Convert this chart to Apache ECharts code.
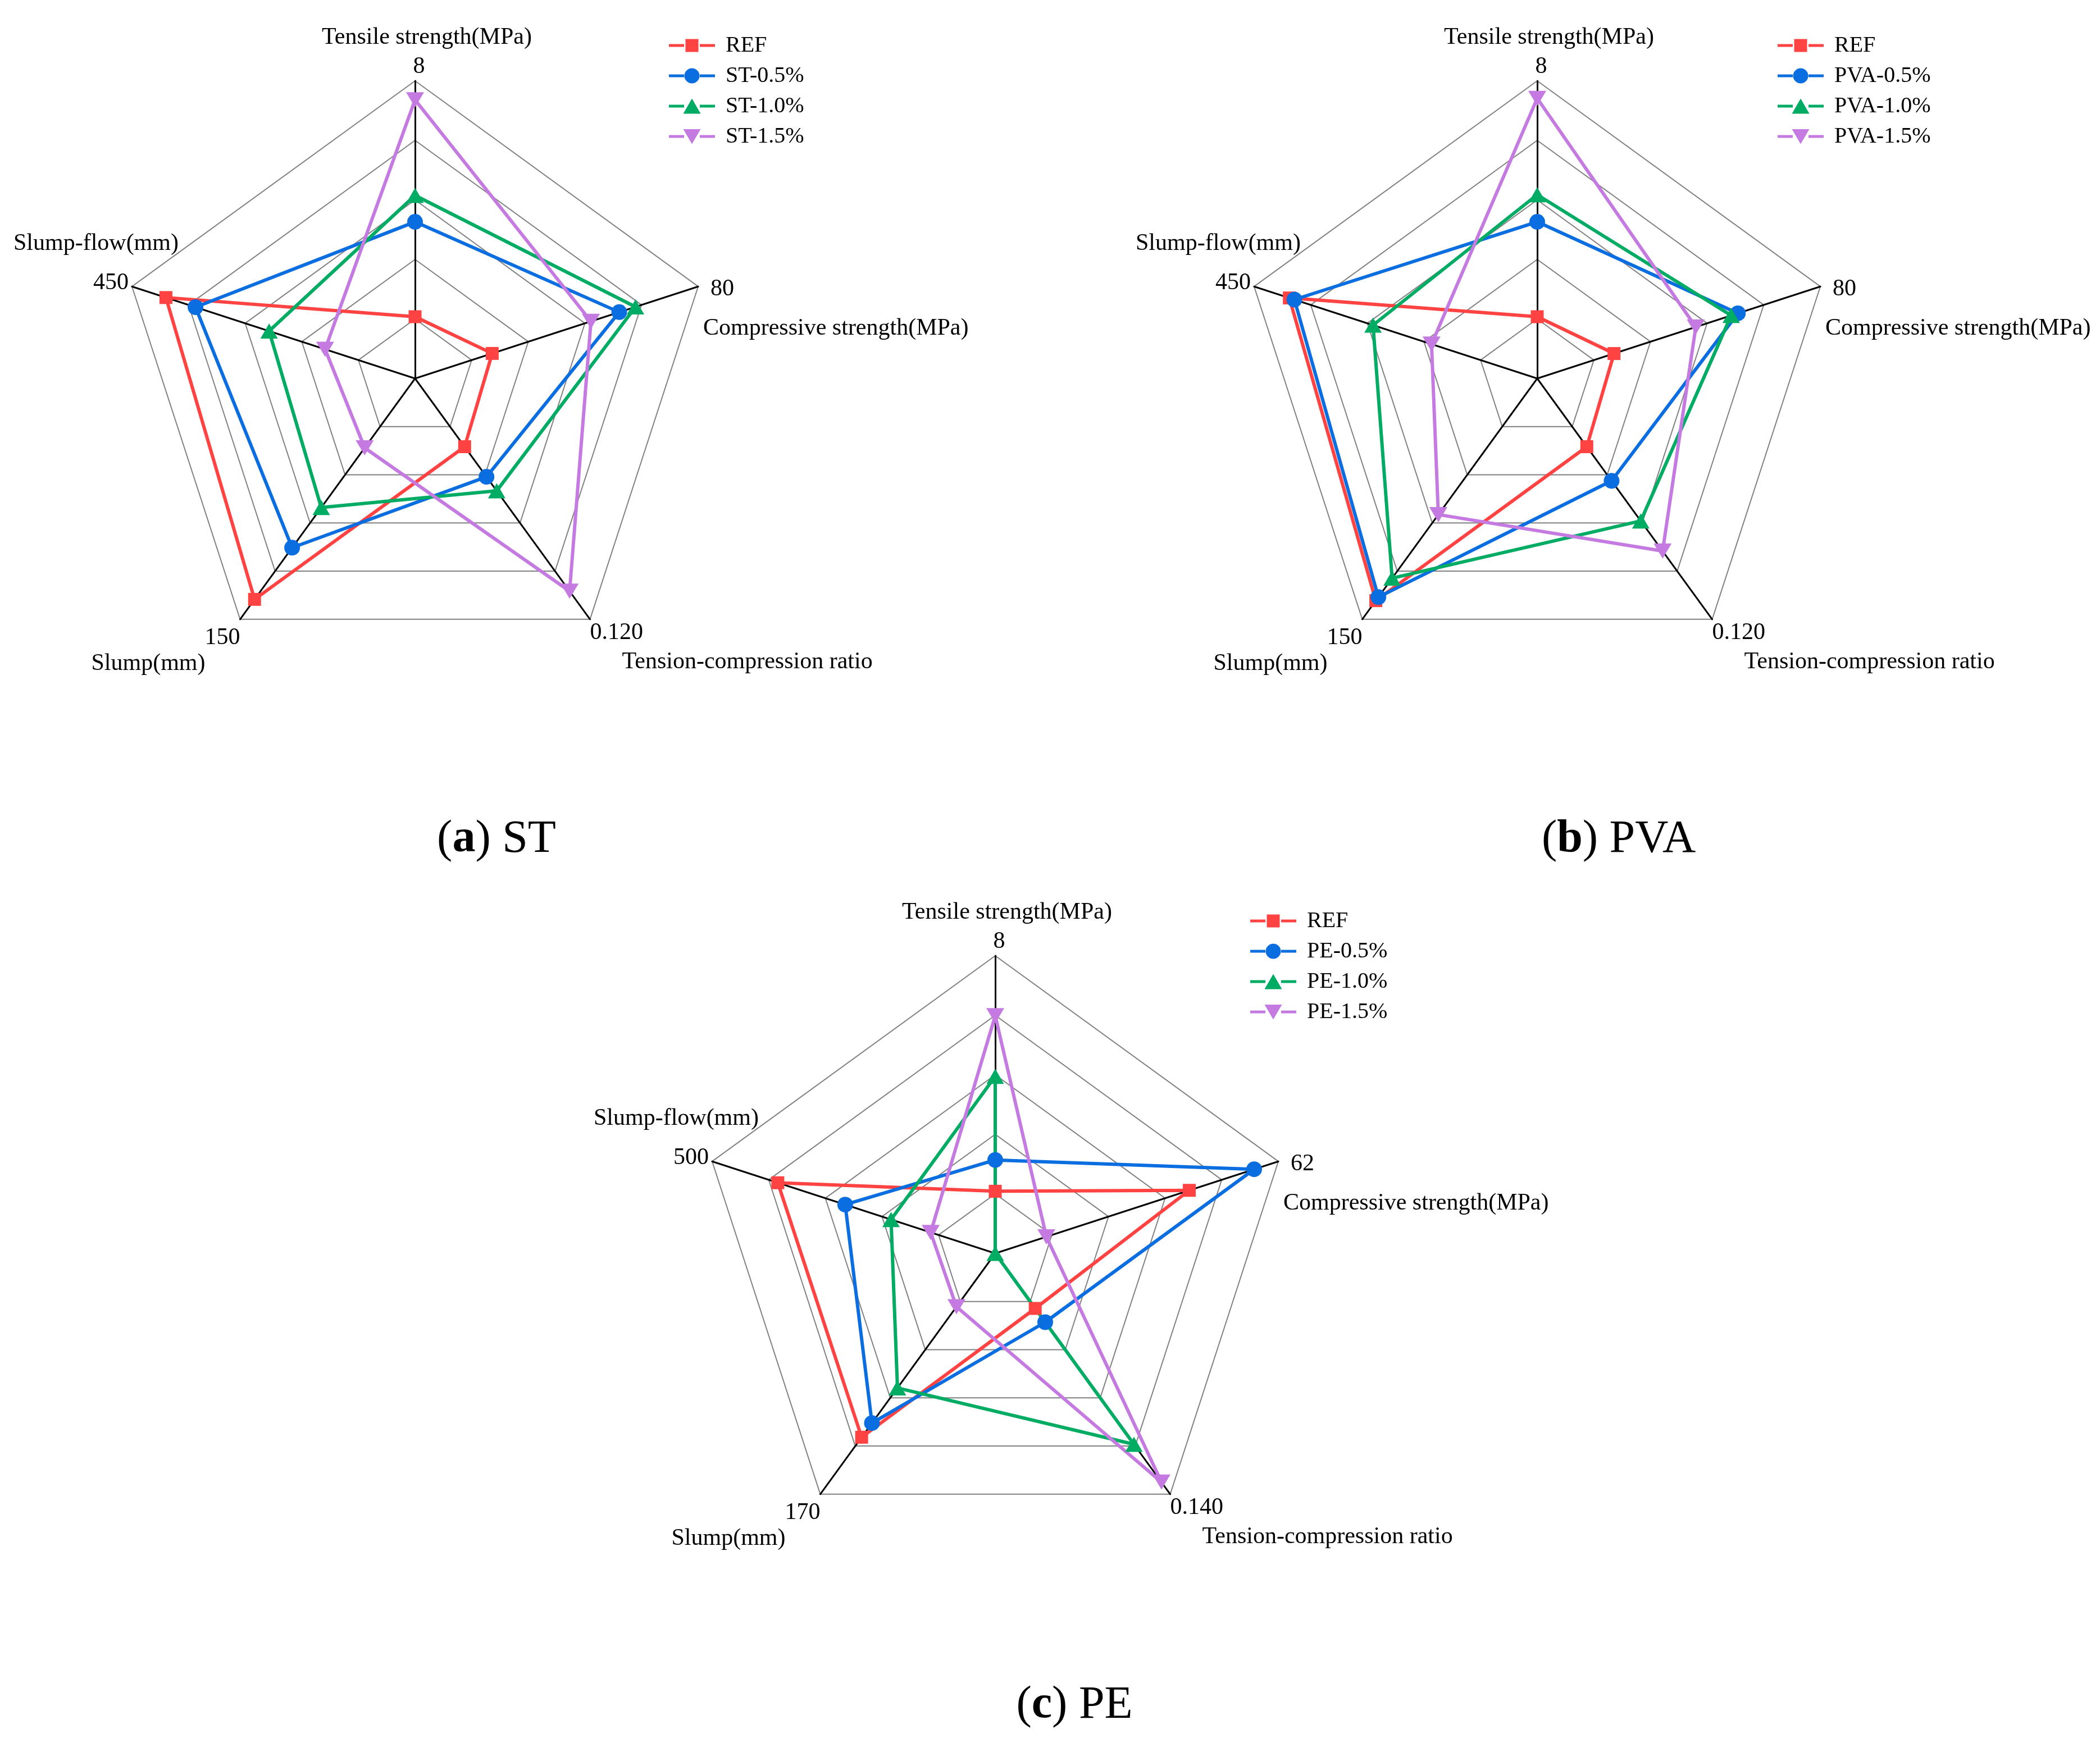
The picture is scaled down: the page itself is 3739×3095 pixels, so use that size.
<!DOCTYPE html>
<html>
<head>
<meta charset="utf-8">
<script src="https://cdn.jsdelivr.net/npm/echarts@6/dist/echarts.min.js"></script>
<style>
html, body { margin: 0; padding: 0; background: #ffffff; }
#chart { width: 3739px; height: 3095px; }
</style>
</head>
<body>
<div id="chart"></div>
<script>
// ---------------- data ----------------
// indicator order (counter-clockwise from top)
const indicatorNames = ['Tensile strength(MPa)', 'Slump-flow(mm)', 'Slump(mm)', 'Tension-compression ratio', 'Compressive strength(MPa)'];

const maxST  = [8, 450, 150, 0.12, 80];
const maxPVA = [8, 450, 150, 0.12, 80];
const maxPE  = [8, 500, 170, 0.14, 62];

const tickST  = ['8', '450', '150', '0.120', '80'];
const tickPVA = ['8', '450', '150', '0.120', '80'];
const tickPE  = ['8', '500', '170', '0.140', '62'];

const namesST  = ['REF', 'ST-0.5%', 'ST-1.0%', 'ST-1.5%'];
const namesPVA = ['REF', 'PVA-0.5%', 'PVA-1.0%', 'PVA-1.5%'];
const namesPE  = ['REF', 'PE-0.5%', 'PE-1.0%', 'PE-1.5%'];

// values: [tensile, slump-flow, slump, tension-compression ratio, compressive]
const refST = [1.66, 396, 137.6, 0.034, 21.8];
const st05  = [4.21, 349, 105.4, 0.049, 57.7];
const st10  = [4.92, 232, 80.4, 0.056, 62.3];
const st15  = [7.49, 143, 43.2, 0.106, 49.7];

const refPVA = [1.66, 394, 138.4, 0.034, 21.7];
const pva05  = [4.21, 386, 136.2, 0.051, 56.7];
const pva10  = [4.94, 261, 124.4, 0.071, 54.8];
const pva15  = [7.53, 168, 84.8, 0.086, 44.8];

const refPE = [1.67, 384, 129.8, 0.032, 42.5];
const pe05  = [2.51, 265, 119.8, 0.040, 56.7];
const pe10  = [4.76, 184, 95.0, 0.111, 0];
const pe15  = [6.39, 114, 37.7, 0.133, 11.2];

// ---------------- styles / layout ----------------
const FONT = 'Liberation Serif';
const COLORS = ['#ff4242', '#0a6de0', '#00ab64', '#c47ae0'];
const SYMBOLS = ['rect', 'circle', 'triangle', 'path://M0,0L2,0L1,1.7Z'];
const SYMBOL_SIZES = [23, 28, [31, 27], [32, 27]];
const RADIUS = 530;

const CORNERS = 'M0,0L0.01,0L0,0.01Z M86,28L85.99,28L86,27.99Z ';
const BARS = 'M2,11.5L29,11.5L29,16.5L2,16.5Z M57,11.5L84,11.5L84,16.5L57,16.5Z ';
const LEGEND_ICONS = [
  'path://' + CORNERS + BARS + 'M31.5,2.5L54.5,2.5L54.5,25.5L31.5,25.5Z',
  'path://' + CORNERS + BARS + 'M29.5,14A13.5,13.5 0 1,1 56.5,14A13.5,13.5 0 1,1 29.5,14Z',
  'path://' + CORNERS + BARS + 'M43,0.5L58.5,27.5L27.5,27.5Z',
  'path://' + CORNERS + BARS + 'M27.5,1L58.5,1L43,27.5Z'
];

// label placement relative to the vertex of each indicator axis
const LABEL_LAYOUT = [
  { order: ['n', 'v'], v: { align: 'center', dx: 7, cy: -25 },  n: { align: 'center', dx: 21, cy: -77 }, half: 0 },
  { order: ['n', 'v'], v: { align: 'right',  dx: -6, cy: -6 },  n: { align: 'right',  dx: 83, cy: -76 }, half: 240 },
  { order: ['v', 'n'], v: { align: 'right',  dx: 0, cy: 33 },   n: { align: 'right',  dx: -62, cy: 79 }, half: 290 },
  { order: ['v', 'n'], v: { align: 'left',   dx: 0, cy: 24 },   n: { align: 'left',   dx: 57, cy: 76 },  half: 530 },
  { order: ['v', 'n'], v: { align: 'left',   dx: 22, cy: 5 },   n: { align: 'left',   dx: 9, cy: 75 },   half: 500 }
];

function tokenStyle(t, D, half) {
  const s = { lineHeight: D, align: t.align, fontSize: 42, fontFamily: FONT, color: '#000' };
  if (t.align === 'left') s.padding = [0, 0, 0, half + t.dx];
  else if (t.align === 'right') s.padding = [0, half - t.dx, 0, 0];
  else s.padding = [0, Math.max(0, -2 * t.dx), 0, Math.max(0, 2 * t.dx)];
  return s;
}

function buildAxisName(ticks) {
  const rich = {};
  LABEL_LAYOUT.forEach(function (L, i) {
    const c1 = L[L.order[0]].cy, c2 = L[L.order[1]].cy;
    const D = c2 - c1, m = (c1 + c2) / 2;
    const a = 10 + Math.max(0, 2 * m), b = 10 + Math.max(0, -2 * m);
    rich['a' + i] = { lineHeight: a, fontSize: 10, width: L.half > 0 ? 2 * L.half : undefined };
    rich['b' + i] = { lineHeight: b, fontSize: 10 };
    rich['v' + i] = tokenStyle(L.v, D, L.half);
    rich['n' + i] = tokenStyle(L.n, D, L.half);
  });
  return {
    show: true,
    color: '#000',
    fontSize: 42,
    fontFamily: FONT,
    align: 'center',
    verticalAlign: 'middle',
    rich: rich,
    formatter: function (name) {
      const i = indicatorNames.indexOf(name);
      const L = LABEL_LAYOUT[i];
      const txt = { v: ticks[i], n: name };
      return '{a' + i + '| }\n{' + L.order[0] + i + '|' + txt[L.order[0]] + '}\n{' +
             L.order[1] + i + '|' + txt[L.order[1]] + '}\n{b' + i + '| }';
    }
  };
}

const PANELS = [
  { center: [739, 674],  legend: { left: 1189, top: 61 },   caption: { x: 884,  y: 1495, letter: 'a', text: ' ST' },
    names: namesST,  values: [refST, st05, st10, st15],     max: maxST,  ticks: tickST },
  { center: [2737, 674], legend: { left: 3163, top: 61 },   caption: { x: 2882, y: 1495, letter: 'b', text: ' PVA' },
    names: namesPVA, values: [refPVA, pva05, pva10, pva15], max: maxPVA, ticks: tickPVA },
  { center: [1772, 2232], legend: { left: 2224, top: 1620 }, caption: { x: 1913, y: 3037, letter: 'c', text: ' PE' },
    names: namesPE,  values: [refPE, pe05, pe10, pe15],     max: maxPE,  ticks: tickPE }
];

// ---------------- option ----------------
const radars = [], series = [], legends = [], graphics = [];
PANELS.forEach(function (p, k) {
  radars.push({
    center: p.center,
    radius: RADIUS,
    startAngle: 90,
    splitNumber: 5,
    shape: 'polygon',
    nameGap: 0,
    indicator: indicatorNames.map(function (n, i) { return { name: n, min: 0, max: p.max[i] }; }),
    axisName: buildAxisName(p.ticks),
    axisLine: { show: true, lineStyle: { color: '#000000', width: 3 } },
    axisTick: { show: false },
    axisLabel: { show: false },
    splitLine: { show: true, lineStyle: { color: '#808080', width: 2 } },
    splitArea: { show: false }
  });
  p.names.forEach(function (nm, j) {
    series.push({
      type: 'radar',
      radarIndex: k,
      name: nm,
      symbol: SYMBOLS[j],
      symbolSize: SYMBOL_SIZES[j],
      lineStyle: { color: COLORS[j], width: 6 },
      itemStyle: { color: COLORS[j], borderWidth: 0 },
      emphasis: { disabled: true },
      data: [{ name: nm, value: p.values[j] }]
    });
  });
  legends.push({
    orient: 'vertical',
    left: p.legend.left,
    top: p.legend.top,
    padding: 0,
    itemWidth: 86,
    itemHeight: 28,
    itemGap: 14,
    selectedMode: false,
    itemStyle: { borderWidth: 0 },
    textStyle: { fontSize: 40, fontFamily: FONT, color: '#000', padding: [0, 0, 0, 12] },
    data: p.names.map(function (n, j) { return { name: n, icon: LEGEND_ICONS[j] }; })
  });
  graphics.push({
    type: 'text',
    x: p.caption.x,
    y: p.caption.y,
    style: {
      text: '({b|' + p.caption.letter + '})' + p.caption.text,
      fontSize: 82,
      fontFamily: FONT,
      fill: '#000',
      align: 'center',
      verticalAlign: 'middle',
      textAlign: 'center',
      textVerticalAlign: 'middle',
      rich: { b: { fontSize: 82, fontFamily: FONT, fontWeight: 'bold', fill: '#000' } }
    }
  });
});

const chart = echarts.init(document.getElementById('chart'), null, { renderer: 'canvas' });
chart.setOption({
  backgroundColor: '#ffffff',
  animation: false,
  textStyle: { fontFamily: FONT },
  radar: radars,
  legend: legends,
  graphic: graphics,
  series: series
});
</script>
</body>
</html>
